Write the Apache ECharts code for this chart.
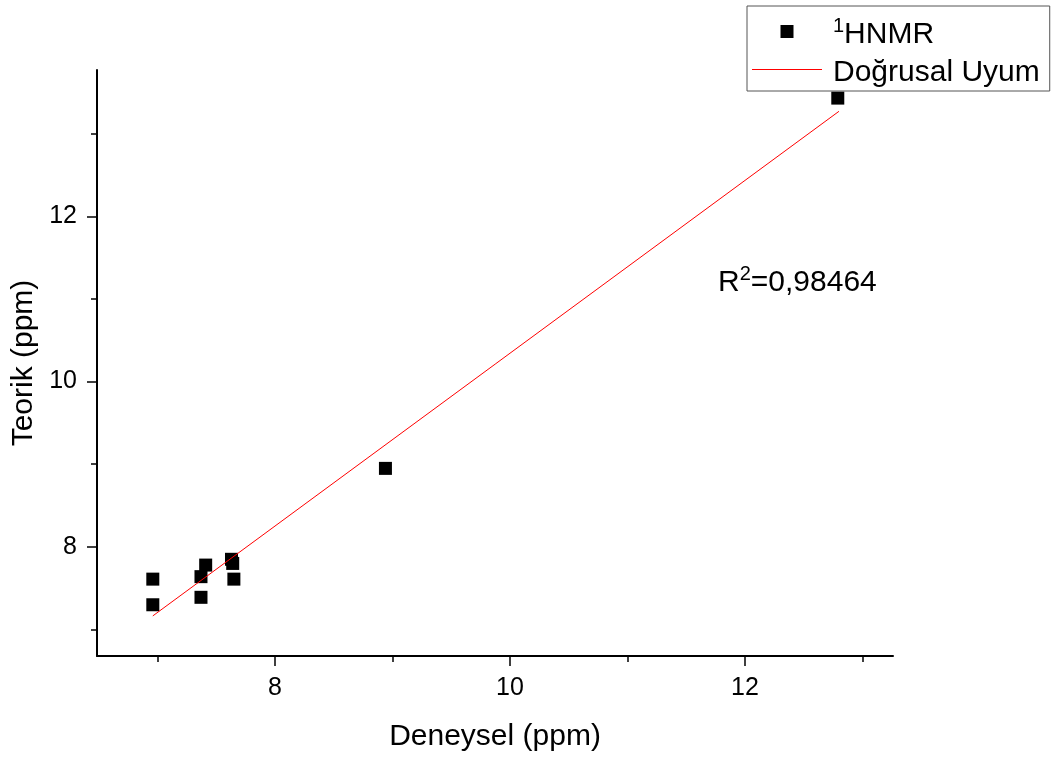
<!DOCTYPE html>
<html>
<head>
<meta charset="utf-8">
<script src="https://cdn.jsdelivr.net/npm/echarts@6/dist/echarts.min.js"></script>
<style>
  html, body { margin: 0; padding: 0; background: #fff; }
  #chart { width: 1064px; height: 761px; }
</style>
</head>
<body>
<div id="chart"></div>
<script>
// ---- data ----
const xHNMR = [6.96, 6.96, 7.37, 7.41, 7.37, 7.63, 7.64, 7.65, 8.94, 12.79];
const yHNMR = [7.61, 7.30, 7.64, 7.78, 7.39, 7.85, 7.80, 7.61, 8.95, 13.43];
const fitX = [6.96, 12.80];
const fitY = [7.165, 13.27];
const xMajorTicks = [8, 10, 12];
const xMinorTicks = [7, 9, 11, 13];
const yMajorTicks = [8, 10, 12];
const yMinorTicks = [7, 9, 11, 13];
const seriesNames = ['HNMR', 'Doğrusal Uyum'];
const xTitle = 'Deneysel (ppm)';
const yTitle = 'Teorik (ppm)';
const r2Label = '0,98464';

const FONT = "'Liberation Sans', Arial, sans-serif";
const chart = echarts.init(document.getElementById('chart'), null, { renderer: 'canvas' });

const X_MIN = 6.485, X_MAX = 13.26, Y_MIN = 6.68, Y_MAX = 13.77;

function majorAxis(dim, ticks, min, max, name, nameGap) {
  return {
    type: 'value', min: min, max: max,
    position: dim === 'x' ? 'bottom' : 'left',
    name: name, nameLocation: 'middle', nameGap: nameGap,
    nameRotate: dim === 'x' ? 0 : 90,
    nameTextStyle: { fontSize: 30, color: '#000', fontFamily: FONT },
    axisLine: { show: true, onZero: false, lineStyle: { color: '#000', width: 2 } },
    axisTick: { show: true, inside: false, length: 10, customValues: ticks, lineStyle: { color: '#000', width: 1.5 } },
    axisLabel: { customValues: ticks, fontSize: 25, color: '#000', fontFamily: FONT, margin: 20 },
    splitLine: { show: false }
  };
}
function minorAxis(dim, ticks, min, max) {
  return {
    type: 'value', min: min, max: max,
    position: dim === 'x' ? 'bottom' : 'left',
    axisLine: { show: false, onZero: false },
    axisTick: { show: true, inside: false, length: 6, customValues: ticks, lineStyle: { color: '#000', width: 1.5 } },
    axisLabel: { show: false },
    splitLine: { show: false }
  };
}

const richText = {
  g: { width: 6 },
  s: { fontSize: 20, lineHeight: 22, verticalAlign: 'top', fontFamily: FONT, color: '#000' },
  t: { fontSize: 30, lineHeight: 30, padding: [7, 0, 0, 0], fontFamily: FONT, color: '#000' }
};

const option = {
  animation: false,
  backgroundColor: '#fff',
  grid: { left: 97, right: 171, top: 70, bottom: 105, containLabel: false },
  xAxis: [
    majorAxis('x', xMajorTicks, X_MIN, X_MAX, xTitle, 66),
    minorAxis('x', xMinorTicks, X_MIN, X_MAX)
  ],
  yAxis: [
    majorAxis('y', yMajorTicks, Y_MIN, Y_MAX, yTitle, 55),
    minorAxis('y', yMinorTicks, Y_MIN, Y_MAX)
  ],
  legend: {
    orient: 'vertical',
    left: 747, top: 6,
    padding: [7, 10, 3, 5],
    itemGap: 1,
    itemWidth: 70,
    itemHeight: 13,
    borderColor: '#555',
    borderWidth: 1,
    backgroundColor: '#fff',
    textStyle: { fontSize: 30, color: '#000', fontFamily: FONT, rich: richText },
    formatter: function (name) {
      return name === seriesNames[0] ? '{g|}{s|1}{t|' + name + '}' : '{g|}{t|' + name + '}';
    },
    data: [
      { name: seriesNames[0], icon: 'path://M0,0L10,0L10,10L0,10Z',
        itemStyle: { color: '#000', borderWidth: 0, opacity: 1 } },
      { name: seriesNames[1], icon: 'none' }
    ]
  },
  graphic: [
    {
      type: 'text',
      left: 718, top: 261,
      z: 100,
      style: {
        text: '{t|R}{s|2}{t|=' + r2Label + '}',
        rich: richText,
        font: '30px ' + FONT,
        fill: '#000'
      }
    },
    {
      // red line sample inside the legend box
      type: 'line',
      z: 100,
      shape: { x1: 752, y1: 69.5, x2: 822, y2: 69.5 },
      style: { stroke: '#ff0000', lineWidth: 1 }
    }
  ],
  series: [
    {
      name: seriesNames[0],
      type: 'scatter',
      xAxisIndex: 0, yAxisIndex: 0,
      symbol: 'rect',
      symbolSize: 13,
      itemStyle: { color: '#000', opacity: 1 },
      z: 2,
      data: xHNMR.map(function (x, i) { return [x, yHNMR[i]]; })
    },
    {
      name: seriesNames[1],
      type: 'line',
      xAxisIndex: 0, yAxisIndex: 0,
      symbol: 'none',
      showSymbol: false,
      lineStyle: { color: '#ff0000', width: 1 },
      itemStyle: { color: '#ff0000' },
      z: 3,
      data: fitX.map(function (x, i) { return [x, fitY[i]]; })
    }
  ]
};
chart.setOption(option);
</script>
</body>
</html>
